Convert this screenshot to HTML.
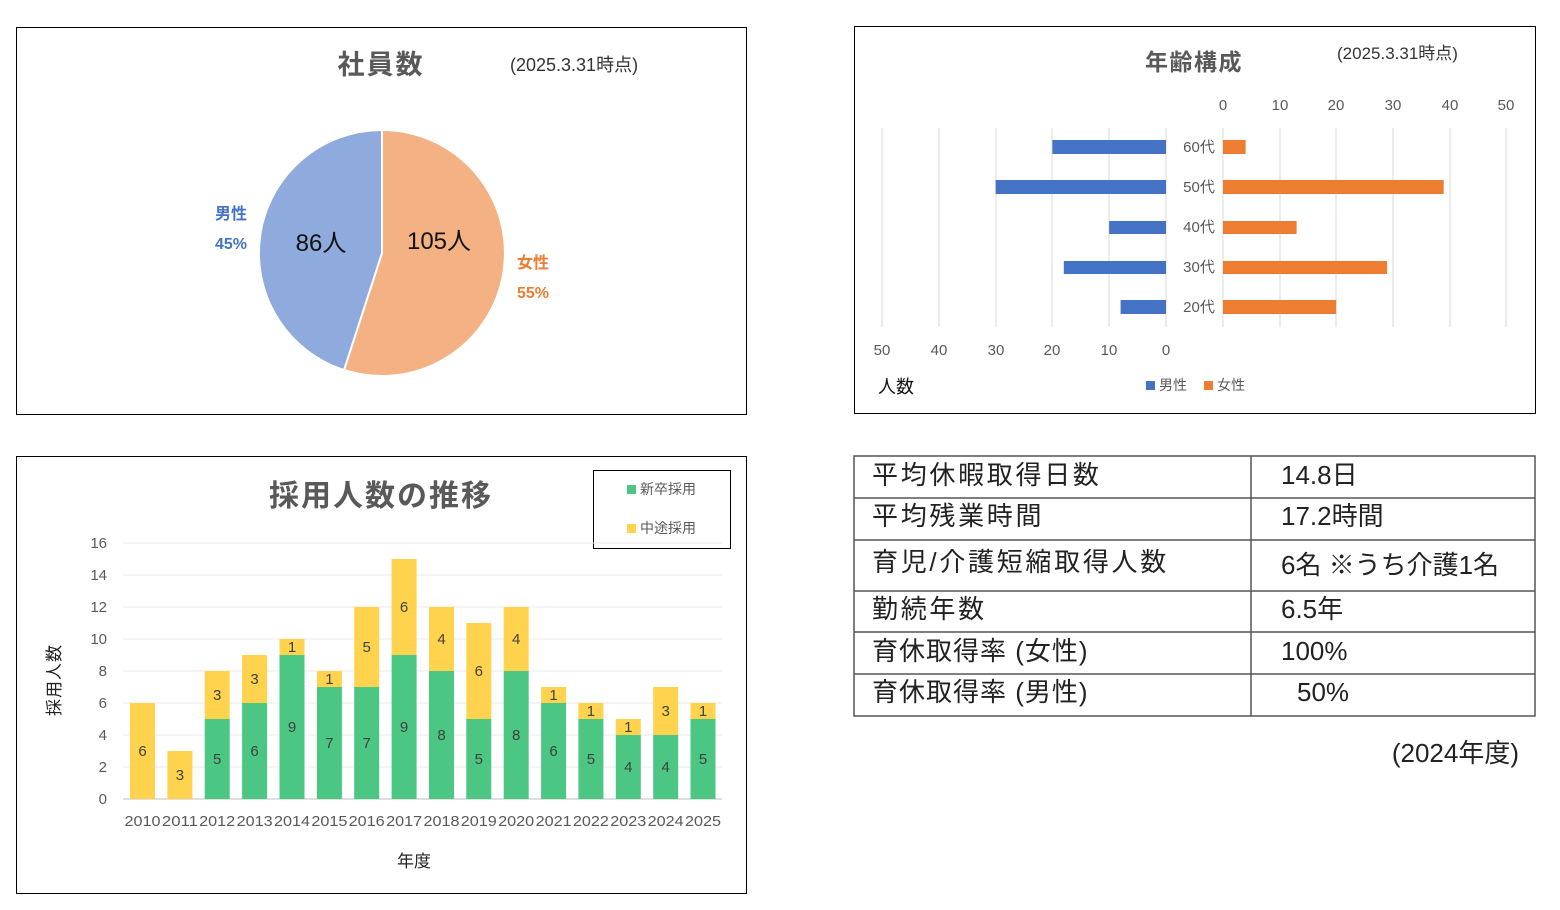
<!DOCTYPE html>
<html><head><meta charset="utf-8"><style>
body{margin:0;background:#fff;}
svg{display:block;font-family:"Liberation Sans","Noto Sans CJK JP",sans-serif;}
</style></head><body>
<svg width="1560" height="910" viewBox="0 0 1560 910" xmlns="http://www.w3.org/2000/svg">
<rect width="1560" height="910" fill="#fff"/>
<!-- Pie chart -->
<rect x="16.5" y="27.5" width="730" height="387" fill="#fff" stroke="#000"/>
<text x="381" y="74" font-size="27" font-weight="bold" fill="#595959" text-anchor="middle" letter-spacing="2">社員数</text>
<text x="510" y="71" font-size="18" fill="#333">(2025.3.31時点)</text>
<path d="M382,253 L382,130 A123,123 0 1,1 344,370 Z" fill="#F4B183" stroke="#fff" stroke-width="2"/>
<path d="M382,253 L344,370 A123,123 0 0,1 382,130 Z" fill="#8FAADC" stroke="#fff" stroke-width="2"/>
<text x="321" y="251" font-size="24" fill="#111" text-anchor="middle">86人</text>
<text x="439" y="249" font-size="24" fill="#111" text-anchor="middle">105人</text>
<text x="231" y="219" font-size="16" font-weight="bold" fill="#4472C4" text-anchor="middle">男性</text>
<text x="231" y="249" font-size="16" font-weight="bold" fill="#4472C4" text-anchor="middle">45%</text>
<text x="533" y="268" font-size="16" font-weight="bold" fill="#ED7D31" text-anchor="middle">女性</text>
<text x="533" y="298" font-size="16" font-weight="bold" fill="#ED7D31" text-anchor="middle">55%</text>

<!-- Age chart -->
<rect x="854.5" y="26.5" width="681" height="387" fill="#fff" stroke="#000"/>
<text x="1194" y="70" font-size="23" font-weight="bold" fill="#595959" text-anchor="middle" letter-spacing="1.5">年齢構成</text>
<text x="1337" y="59" font-size="17" fill="#333">(2025.3.31時点)</text>
<g stroke="#d9d9d9" stroke-width="1">
<line x1="882" y1="128" x2="882" y2="327"/><line x1="939" y1="128" x2="939" y2="327"/><line x1="996" y1="128" x2="996" y2="327"/><line x1="1052" y1="128" x2="1052" y2="327"/><line x1="1109" y1="128" x2="1109" y2="327"/><line x1="1166" y1="128" x2="1166" y2="327"/>
<line x1="1223" y1="128" x2="1223" y2="327"/><line x1="1280" y1="128" x2="1280" y2="327"/><line x1="1336" y1="128" x2="1336" y2="327"/><line x1="1393" y1="128" x2="1393" y2="327"/><line x1="1450" y1="128" x2="1450" y2="327"/><line x1="1506" y1="128" x2="1506" y2="327"/>
</g>
<g fill="#4472C4">
<rect x="1052.4" y="140" width="113.6" height="14"/>
<rect x="995.6" y="180" width="170.4" height="14"/>
<rect x="1109.2" y="221" width="56.8" height="13"/>
<rect x="1063.8" y="261" width="102.2" height="13"/>
<rect x="1120.6" y="300" width="45.4" height="14"/>
</g>
<g fill="#ED7D31">
<rect x="1223" y="140" width="22.6" height="14"/>
<rect x="1223" y="180" width="220.7" height="14"/>
<rect x="1223" y="221" width="73.6" height="13"/>
<rect x="1223" y="261" width="164.1" height="13"/>
<rect x="1223" y="300" width="113.2" height="14"/>
</g>
<g font-size="15" fill="#595959" text-anchor="middle">
<text x="1199" y="152">60代</text><text x="1199" y="192">50代</text><text x="1199" y="232">40代</text><text x="1199" y="272">30代</text><text x="1199" y="312">20代</text>
<text x="1223" y="110">0</text><text x="1280" y="110">10</text><text x="1336" y="110">20</text><text x="1393" y="110">30</text><text x="1450" y="110">40</text><text x="1506" y="110">50</text>
<text x="882" y="355">50</text><text x="939" y="355">40</text><text x="996" y="355">30</text><text x="1052" y="355">20</text><text x="1109" y="355">10</text><text x="1166" y="355">0</text>
</g>
<text x="878" y="393" font-size="18" fill="#111">人数</text>
<rect x="1146" y="381" width="9" height="9" fill="#4472C4"/>
<text x="1159" y="390" font-size="14" fill="#595959">男性</text>
<rect x="1204" y="381" width="9" height="9" fill="#ED7D31"/>
<text x="1217" y="390" font-size="14" fill="#595959">女性</text>

<!-- Hiring chart -->
<rect x="16.5" y="456.5" width="730" height="437" fill="#fff" stroke="#000"/>
<text x="381" y="506" font-size="30" font-weight="bold" fill="#595959" text-anchor="middle" letter-spacing="2">採用人数の推移</text>
<rect x="593.5" y="470.5" width="137" height="78" fill="#fff" stroke="#000"/>
<rect x="627" y="485" width="9" height="9" fill="#4CC683"/>
<text x="640" y="494" font-size="14" fill="#595959">新卒採用</text>
<rect x="627" y="524" width="9" height="9" fill="#FFD34D"/>
<text x="640" y="533" font-size="14" fill="#595959">中途採用</text>
<g stroke="#e8e8e8">
<line x1="123" y1="543" x2="722" y2="543"/><line x1="123" y1="575" x2="722" y2="575"/><line x1="123" y1="607" x2="722" y2="607"/><line x1="123" y1="639" x2="722" y2="639"/><line x1="123" y1="671" x2="722" y2="671"/><line x1="123" y1="703" x2="722" y2="703"/><line x1="123" y1="735" x2="722" y2="735"/><line x1="123" y1="767" x2="722" y2="767"/>
</g>
<line x1="123" y1="799" x2="722" y2="799" stroke="#bfbfbf"/>
<g font-size="15" fill="#595959" text-anchor="end">
<text x="107" y="548">16</text><text x="107" y="580">14</text><text x="107" y="612">12</text><text x="107" y="644">10</text><text x="107" y="676">8</text><text x="107" y="708">6</text><text x="107" y="740">4</text><text x="107" y="772">2</text><text x="107" y="804">0</text>
</g>
<text transform="translate(60,680) rotate(-90)" font-size="17" fill="#222" text-anchor="middle" letter-spacing="1">採用人数</text>
<text x="414" y="867" font-size="17" fill="#222" text-anchor="middle">年度</text>
<g fill="#4CC683">
<rect x="204.7" y="719" width="25" height="80"/>
<rect x="242.1" y="703" width="25" height="96"/>
<rect x="279.5" y="655" width="25" height="144"/>
<rect x="316.9" y="687" width="25" height="112"/>
<rect x="354.2" y="687" width="25" height="112"/>
<rect x="391.6" y="655" width="25" height="144"/>
<rect x="429" y="671" width="25" height="128"/>
<rect x="466.3" y="719" width="25" height="80"/>
<rect x="503.7" y="671" width="25" height="128"/>
<rect x="541.1" y="703" width="25" height="96"/>
<rect x="578.4" y="719" width="25" height="80"/>
<rect x="615.8" y="735" width="25" height="64"/>
<rect x="653.2" y="735" width="25" height="64"/>
<rect x="690.5" y="719" width="25" height="80"/>
</g>
<g fill="#FFD34D">
<rect x="130" y="703" width="25" height="96"/>
<rect x="167.4" y="751" width="25" height="48"/>
<rect x="204.7" y="671" width="25" height="48"/>
<rect x="242.1" y="655" width="25" height="48"/>
<rect x="279.5" y="639" width="25" height="16"/>
<rect x="316.9" y="671" width="25" height="16"/>
<rect x="354.2" y="607" width="25" height="80"/>
<rect x="391.6" y="559" width="25" height="96"/>
<rect x="429" y="607" width="25" height="64"/>
<rect x="466.3" y="623" width="25" height="96"/>
<rect x="503.7" y="607" width="25" height="64"/>
<rect x="541.1" y="687" width="25" height="16"/>
<rect x="578.4" y="703" width="25" height="16"/>
<rect x="615.8" y="719" width="25" height="16"/>
<rect x="653.2" y="687" width="25" height="48"/>
<rect x="690.5" y="703" width="25" height="16"/>
</g>
<g font-size="15" fill="#404040" text-anchor="middle">
<text x="142.5" y="756">6</text><text x="179.9" y="780">3</text>
<text x="217.2" y="764">5</text><text x="217.2" y="700">3</text>
<text x="254.6" y="756">6</text><text x="254.6" y="684">3</text>
<text x="292" y="732">9</text><text x="292" y="652">1</text>
<text x="329.4" y="748">7</text><text x="329.4" y="684">1</text>
<text x="366.7" y="748">7</text><text x="366.7" y="652">5</text>
<text x="404.1" y="732">9</text><text x="404.1" y="612">6</text>
<text x="441.5" y="740">8</text><text x="441.5" y="644">4</text>
<text x="478.8" y="764">5</text><text x="478.8" y="676">6</text>
<text x="516.2" y="740">8</text><text x="516.2" y="644">4</text>
<text x="553.6" y="756">6</text><text x="553.6" y="700">1</text>
<text x="590.9" y="764">5</text><text x="590.9" y="716">1</text>
<text x="628.3" y="772">4</text><text x="628.3" y="732">1</text>
<text x="665.7" y="772">4</text><text x="665.7" y="716">3</text>
<text x="703" y="764">5</text><text x="703" y="716">1</text>
</g>
<g font-size="15" fill="#595959" text-anchor="middle">
<text x="142.5" y="826" textLength="36" lengthAdjust="spacingAndGlyphs">2010</text>
<text x="179.9" y="826" textLength="36" lengthAdjust="spacingAndGlyphs">2011</text>
<text x="217.2" y="826" textLength="36" lengthAdjust="spacingAndGlyphs">2012</text>
<text x="254.6" y="826" textLength="36" lengthAdjust="spacingAndGlyphs">2013</text>
<text x="292" y="826" textLength="36" lengthAdjust="spacingAndGlyphs">2014</text>
<text x="329.4" y="826" textLength="36" lengthAdjust="spacingAndGlyphs">2015</text>
<text x="366.7" y="826" textLength="36" lengthAdjust="spacingAndGlyphs">2016</text>
<text x="404.1" y="826" textLength="36" lengthAdjust="spacingAndGlyphs">2017</text>
<text x="441.5" y="826" textLength="36" lengthAdjust="spacingAndGlyphs">2018</text>
<text x="478.8" y="826" textLength="36" lengthAdjust="spacingAndGlyphs">2019</text>
<text x="516.2" y="826" textLength="36" lengthAdjust="spacingAndGlyphs">2020</text>
<text x="553.6" y="826" textLength="36" lengthAdjust="spacingAndGlyphs">2021</text>
<text x="590.9" y="826" textLength="36" lengthAdjust="spacingAndGlyphs">2022</text>
<text x="628.3" y="826" textLength="36" lengthAdjust="spacingAndGlyphs">2023</text>
<text x="665.7" y="826" textLength="36" lengthAdjust="spacingAndGlyphs">2024</text>
<text x="703" y="826" textLength="36" lengthAdjust="spacingAndGlyphs">2025</text>
</g>

<!-- Table -->
<g stroke="#555" stroke-width="1.5" fill="none">
<rect x="854" y="456" width="681" height="260"/>
<line x1="1251" y1="456" x2="1251" y2="716"/>
<line x1="854" y1="498" x2="1535" y2="498"/>
<line x1="854" y1="540" x2="1535" y2="540"/>
<line x1="854" y1="591" x2="1535" y2="591"/>
<line x1="854" y1="632" x2="1535" y2="632"/>
<line x1="854" y1="674" x2="1535" y2="674"/>
</g>
<g font-size="26" fill="#222">
<g letter-spacing="2.7">
<text x="872" y="484">平均休暇取得日数</text>
<text x="872" y="525">平均残業時間</text>
<text x="872" y="571">育児/介護短縮取得人数</text>
<text x="872" y="618">勤続年数</text>
</g>
<text x="872" y="660" letter-spacing="1">育休取得率 (女性)</text>
<text x="872" y="701" letter-spacing="1">育休取得率 (男性)</text>
<text x="1281" y="484">14.8日</text>
<text x="1281" y="525">17.2時間</text>
<text x="1281" y="574">6名 ※うち介護1名</text>
<text x="1281" y="618">6.5年</text>
<text x="1281" y="660">100%</text>
<text x="1297" y="701">50%</text>
<text x="1519" y="762" text-anchor="end">(2024年度)</text>
</g>
</svg>
</body></html>
